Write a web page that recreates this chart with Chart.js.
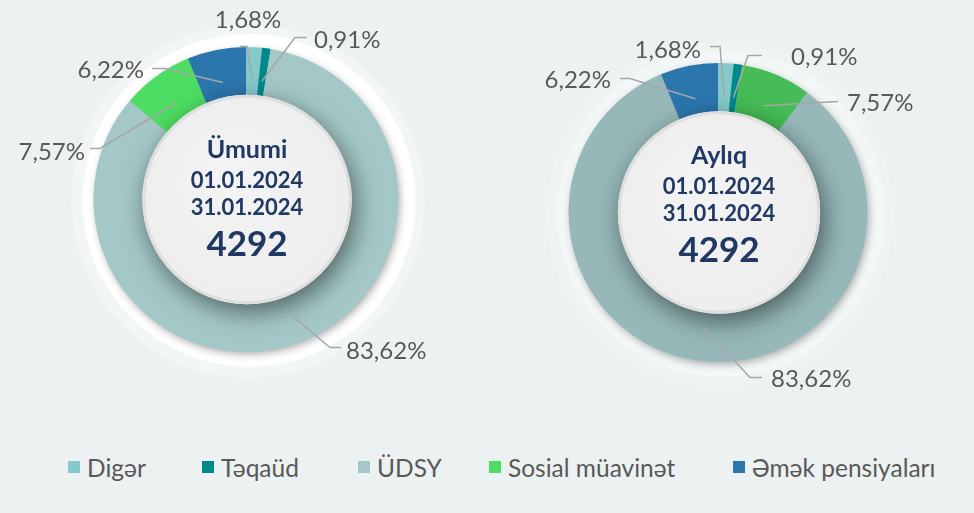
<!DOCTYPE html>
<html>
<head>
<meta charset="utf-8">
<script src="https://cdn.jsdelivr.net/npm/chart.js@4.4.1/dist/chart.umd.min.js"></script>
<style>
    html, body {
        margin: 0;
        padding: 0;
        background: #ecf1f1;
        width: 974px;
        height: 513px;
        overflow: hidden;
        font-family: Lato, 'Open Sans', sans-serif;
    }
    .chart-box {
        position: absolute;
        top: 0;
        width: 487px;
        height: 440px;
    }
    #legend {
        position: absolute;
        top: 450px;
        left: 0;
        width: 974px;
        height: 34px;
    }
    .legend-item {
        position: absolute;
        top: 0;
        display: flex;
        align-items: center;
        height: 34px;
        font-size: 24.5px;
        color: #595959;
        white-space: nowrap;
    }
    .legend-box {
        width: 12px;
        height: 12px;
        margin-right: 7px;
    }
</style>
</head>
<body>

<div class="chart-box" style="left:0"><canvas id="umumiChart" width="487" height="440"></canvas></div>
<div class="chart-box" style="left:487px"><canvas id="ayliqChart" width="487" height="440"></canvas></div>
<div id="legend"></div>

<script>
// categories in legend order
const categories = ['Digər', 'Təqaüd', 'ÜDSY', 'Sosial müavinət', 'Əmək pensiyaları'];

// "Ümumi" chart, slices in legend order
const umumiLabels = ['Digər', 'Təqaüd', 'ÜDSY', 'Sosial müavinət', 'Əmək pensiyaları'];
const umumiValues = [1.68, 0.91, 83.62, 7.57, 6.22];

// "Aylıq" chart, slices in a different order
const ayliqLabels = ['Digər', 'Təqaüd', 'Sosial müavinət', 'ÜDSY', 'Əmək pensiyaları'];
const ayliqValues = [1.68, 0.91, 7.57, 83.62, 6.22];

const umumiTitle = ['Ümumi', '01.01.2024', '31.01.2024'];
const ayliqTitle = ['Aylıq', '01.01.2024', '31.01.2024'];
const umumiTotal = 4292;
const ayliqTotal = 4292;

const colors = {
    'Digər': '#86c9ca',
    'Təqaüd': '#00898b',
    'ÜDSY': '#a4c8c8',
    'Sosial müavinət': '#4ddd62',
    'Əmək pensiyaları': '#2b76ad'
};
const ayliqColors = {
    'Digər': '#86c9ca',
    'Təqaüd': '#00898b',
    'ÜDSY': '#96b8b9',
    'Sosial müavinət': '#45bc55',
    'Əmək pensiyaları': '#2b76ad'
};

// leader line layout per category, offsets from the doughnut centre
const umumiCallouts = {
    'Digər':            { elbow: [1, -153],   end: [-6, -153],  text: [2, -179],   align: 'center' },
    'Təqaüd':           { elbow: [49, -162],  end: [61, -162],  text: [68, -159],  align: 'left' },
    'ÜDSY':             { elbow: [84, 148],   end: [95, 148],   text: [100, 152],  align: 'left' },
    'Sosial müavinət':  { elbow: [-146, -51], end: [-156, -51], text: [-161, -47], align: 'right' },
    'Əmək pensiyaları': { elbow: [-81, -131], end: [-94, -131], text: [-102, -129], align: 'right' }
};
const ayliqCallouts = {
    'Digər':            { elbow: [2, -166],   end: [-8, -166],  text: [-17, -162], align: 'right' },
    'Təqaüd':           { elbow: [30, -157],  end: [44, -157],  text: [73, -155],  align: 'left' },
    'Sosial müavinət':  { elbow: [120, -111], end: [120, -111], text: [129, -109], align: 'left' },
    'ÜDSY':             { elbow: [32, 165],   end: [44, 165],   text: [53, 167],   align: 'left' },
    'Əmək pensiyaları': { elbow: [-88, -134], end: [-98, -134], text: [-107, -132], align: 'right' }
};

function formatPercent(v) {
    return v.toFixed(2).replace('.', ',') + '%';
}

// halo, ring shadow, centre disk, centre text and callouts
const decorPlugin = {
    id: 'decor',
    beforeDatasetsDraw(chart, args, opts) {
        const arc = chart.getDatasetMeta(0).data[0];
        const { x, y, outerRadius } = arc;
        const ctx = chart.ctx;
        ctx.save();
        // faint outer glow
        ctx.fillStyle = opts.glowColor;
        ctx.beginPath();
        ctx.arc(x + 2, y + 2, outerRadius + 24, 0, Math.PI * 2);
        ctx.fill();
        // halo disk
        ctx.fillStyle = opts.haloColor;
        ctx.beginPath();
        ctx.arc(x + 3, y + 1, outerRadius + 14, 0, Math.PI * 2);
        ctx.fill();
        // ring shadow
        ctx.shadowColor = 'rgba(0,0,0,0.35)';
        ctx.shadowBlur = 9;
        ctx.shadowOffsetX = 2;
        ctx.shadowOffsetY = 3;
        ctx.fillStyle = opts.ringColor;
        ctx.beginPath();
        ctx.arc(x, y, outerRadius - 1, 0, Math.PI * 2);
        ctx.fill();
        ctx.restore();
    },
    afterDatasetsDraw(chart, args, opts) {
        const meta = chart.getDatasetMeta(0);
        const first = meta.data[0];
        const { x, y, innerRadius } = first;
        const ctx = chart.ctx;

        // centre disk with its shadow over the ring
        ctx.save();
        ctx.shadowColor = 'rgba(0,0,0,0.5)';
        ctx.shadowBlur = 24;
        ctx.shadowOffsetX = 4;
        ctx.shadowOffsetY = 8;
        ctx.fillStyle = '#efefef';
        ctx.beginPath();
        ctx.arc(x + 1, y, innerRadius + 1, 0, Math.PI * 2);
        ctx.fill();
        ctx.restore();

        ctx.save();
        const grad = ctx.createRadialGradient(x - 20, y - 30, 10, x, y, innerRadius);
        grad.addColorStop(0, '#f3f3f3');
        grad.addColorStop(1, '#eeeeee');
        ctx.fillStyle = grad;
        ctx.beginPath();
        ctx.arc(x + 1, y, innerRadius - 1, 0, Math.PI * 2);
        ctx.fill();
        ctx.strokeStyle = '#dedede';
        ctx.lineWidth = 3;
        ctx.beginPath();
        ctx.arc(x + 1, y, innerRadius - 0.5, 0, Math.PI * 2);
        ctx.stroke();
        ctx.restore();

        // centre text
        ctx.save();
        ctx.fillStyle = '#203864';
        ctx.textAlign = 'center';
        ctx.textBaseline = 'middle';
        const ty = y + opts.textShift;
        ctx.font = 'bold 25px Lato';
        ctx.fillText(opts.title[0], x + 1, ty - 50);
        ctx.font = 'bold 22px Lato';
        ctx.fillText(opts.title[1], x + 1, ty - 19);
        ctx.fillText(opts.title[2], x + 1, ty + 8);
        ctx.font = 'bold 35px Lato';
        ctx.fillText(String(opts.total), x + 1, ty + 45);
        ctx.restore();

        // callouts
        const labels = chart.data.labels;
        const values = chart.data.datasets[0].data;
        ctx.save();
        ctx.font = '24px Lato';
        ctx.fillStyle = '#595959';
        ctx.strokeStyle = '#a6a6a6';
        ctx.lineWidth = 1.5;
        ctx.textBaseline = 'middle';
        meta.data.forEach((el, i) => {
            const c = opts.callouts[labels[i]];
            const mid = (el.startAngle + el.endAngle) / 2;
            const r = el.innerRadius + 0.32 * (el.outerRadius - el.innerRadius);
            const ax = x + Math.cos(mid) * r;
            const ay = y + Math.sin(mid) * r;
            ctx.beginPath();
            ctx.moveTo(ax, ay);
            ctx.lineTo(x + c.elbow[0], y + c.elbow[1]);
            ctx.lineTo(x + c.end[0], y + c.end[1]);
            ctx.stroke();
            ctx.textAlign = c.align;
            ctx.fillText(formatPercent(values[i]), x + c.text[0], y + c.text[1]);
        });
        ctx.restore();
    }
};

function makeChart(id, labels, values, palette, padding, cutout, decor) {
    const ctx = document.getElementById(id).getContext('2d');
    return new Chart(ctx, {
        type: 'doughnut',
        data: {
            labels: labels,
            datasets: [{
                data: values,
                backgroundColor: labels.map(l => palette[l]),
                borderWidth: 0
            }]
        },
        options: {
            responsive: false,
            animation: false,
            events: [],
            cutout: cutout,
            layout: { padding: padding },
            plugins: {
                legend: { display: false },
                tooltip: { enabled: false },
                decor: decor
            }
        },
        plugins: [decorPlugin]
    });
}

makeChart('umumiChart', umumiLabels, umumiValues, colors,
    { left: 93.5, right: 88.5, top: 47, bottom: 88 }, '68%',
    { haloColor: '#ffffff', glowColor: '#f2f6f6', ringColor: colors['ÜDSY'],
      title: umumiTitle, total: umumiTotal, textShift: 0, callouts: umumiCallouts });

makeChart('ayliqChart', ayliqLabels, ayliqValues, ayliqColors,
    { left: 81.5, right: 106.5, top: 63, bottom: 78 }, '67%',
    { haloColor: '#f4f7f8', glowColor: '#eef3f3', ringColor: ayliqColors['ÜDSY'],
      title: ayliqTitle, total: ayliqTotal, textShift: -7, callouts: ayliqCallouts });

// legend row
const legendX = [68, 202, 358, 489, 733];
const legend = document.getElementById('legend');
categories.forEach((name, i) => {
    const item = document.createElement('div');
    item.className = 'legend-item';
    item.style.left = legendX[i] + 'px';
    item.innerHTML = `<span class="legend-box" style="background:${colors[name]}"></span>${name}`;
    legend.appendChild(item);
});
</script>
</body>
</html>
